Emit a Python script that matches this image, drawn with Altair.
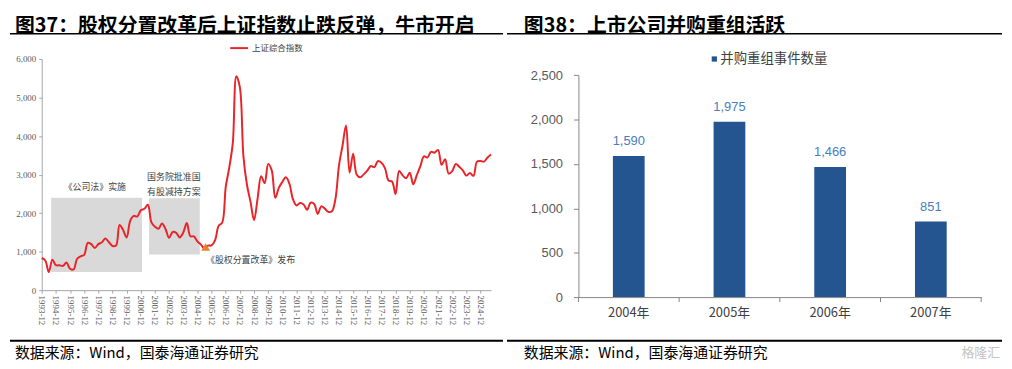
import altair as alt
import pandas as pd

# ---------------- Left chart: 上证综合指数 (quarterly) ----------------
sse_values = [
    834,                      # 1993-12
    770, 468, 792, 648,       # 1994
    647, 630, 716, 555,       # 1995
    537, 815, 880, 917,       # 1996
    1230, 1194, 1097, 1194,   # 1997
    1243, 1339, 1244, 1147,   # 1998
    1158, 1690, 1560, 1367,   # 1999
    1801, 1928, 1911, 2073,   # 2000
    2112, 2218, 1760, 1646,   # 2001
    1593, 1732, 1581, 1358,   # 2002
    1510, 1487, 1367, 1497,   # 2003
    1742, 1399, 1396, 1266,   # 2004
    1181, 1081, 1155, 1161,   # 2005
    1299, 1672, 1753, 2675,   # 2006
    3184, 3821, 5552, 5262,   # 2007
    3473, 2736, 2293, 1821,   # 2008
    2373, 2959, 2779, 3277,   # 2009
    3110, 2398, 2656, 2808,   # 2010
    2928, 2762, 2359, 2199,   # 2011
    2263, 2225, 2086, 2269,   # 2012
    2237, 1979, 2175, 2116,   # 2013
    2033, 2048, 2364, 3235,   # 2014
    3748, 4277, 3053, 3539,   # 2015
    3004, 2930, 3005, 3104,   # 2016
    3223, 3192, 3349, 3307,   # 2017
    3169, 2847, 2821, 2494,   # 2018
    3091, 2979, 2905, 3050,   # 2019
    2750, 2985, 3218, 3473,   # 2020
    3442, 3591, 3568, 3640,   # 2021
    3252, 3399, 3024, 3089,   # 2022
    3273, 3202, 3110, 2975,   # 2023
    3041, 2967, 3336, 3352,   # 2024
    3336, 3444, 3520,         # 2025
]
quarter_labels = ["1993-12"] + [f"{y}-{m:02d}" for y in range(1994, 2026) for m in (3, 6, 9, 12)][:127]
tick_years = list(range(1994, 2026))  # label "YYYY-12" of previous year

# shaded event boxes
box_start = ["1994-08", "2001-07"]
box_end = ["2001-01", "2005-02"]
box_low = [470, 925]
box_high = [2400, 2385]

# annotations
note_text = ["《公司法》实施", "国务院批准国", "有股减持方案", "《股权分置改革》发布"]
note_date = ["1997-09", "2003-04", "2003-04", "2008-09"]
note_value = [2680, 2930, 2560, 773]

marker_date = ["2005-07"]
marker_value = [1120]

# ---------------- Right chart: 并购重组事件数量 ----------------
ma_years = ["2004年", "2005年", "2006年", "2007年"]
ma_counts = [1590, 1975, 1466, 851]

title_left = "图37：股权分置改革后上证指数止跌反弹，牛市开启"
title_right = "图38：上市公司并购重组活跃"
source_text = "数据来源：Wind，国泰海通证券研究"
legend_left = "上证综合指数"
legend_right = "并购重组事件数量"


def ym_to_pos(s):
    y, m = s.split("-")
    return int(y) + int(m) / 12.0


RED = "#E8262A"
BLUE = "#255591"
GRAY_AX = "#A6A6A6"
CJK = "Noto Sans CJK SC"
TITLE_SIZE = 20

line_df = pd.DataFrame({"quarter": quarter_labels, "value": sse_values})
line_df["pos"] = line_df["quarter"].map(ym_to_pos)

box_df = pd.DataFrame({
    "x1": [ym_to_pos(s) for s in box_start],
    "x2": [ym_to_pos(s) for s in box_end],
    "y1": box_low,
    "y2": box_high,
})
note_df = pd.DataFrame({"pos": [ym_to_pos(s) for s in note_date], "value": note_value, "label": note_text})
marker_df = pd.DataFrame({"pos": [ym_to_pos(s) for s in marker_date], "value": marker_value})

one = pd.DataFrame({"t": [""]})


def header_footer(title, x_left, x_right, x_text):
    """Title, rules, source line and a transparent spacer; y relative to plot top (page y 57)."""
    spacer = alt.Chart(one).mark_rule(strokeOpacity=0, opacity=0).encode(
        x=alt.value(x_left), x2=alt.value(x_left + 1), y=alt.value(-49))
    t = alt.Chart(pd.DataFrame({"t": [title]})).mark_text(
        font=CJK, fontSize=TITLE_SIZE, fontWeight="bold", color="#000000",
        align="left", baseline="top").encode(x=alt.value(x_text), y=alt.value(-43), text="t:N")
    r_top = alt.Chart(one).mark_rule(color="#000000", strokeWidth=1.5).encode(
        x=alt.value(x_left), x2=alt.value(x_right), y=alt.value(-25.5))
    r_bot = alt.Chart(one).mark_rule(color="#000000", strokeWidth=2).encode(
        x=alt.value(x_left), x2=alt.value(x_right), y=alt.value(284))
    s = alt.Chart(pd.DataFrame({"t": [source_text]})).mark_text(
        font=CJK, fontSize=15, color="#000000", align="left", baseline="middle").encode(
        x=alt.value(x_text), y=alt.value(296), text="t:N")
    return [spacer, t, r_top, r_bot, s]


# ---------------- Left panel ----------------
W1, H1 = 453, 233
xs1 = alt.Scale(domain=[1994.0, 2025.75], nice=False, zero=False)
ys1 = alt.Scale(domain=[0, 6000], nice=False)
xa1 = alt.Axis(values=tick_years, labelExpr="(datum.value - 1) + '-12'", labelAngle=90,
               labelFont="Liberation Serif", labelFontSize=9, labelColor="#595959",
               tickSize=3, tickColor=GRAY_AX, domainColor=GRAY_AX, labelPadding=2,
               grid=False, title=None, labelOverlap=False, labelFlush=False)
ya1 = alt.Axis(values=[0, 1000, 2000, 3000, 4000, 5000, 6000], format=",.0f",
               labelFont="Liberation Serif", labelFontSize=9, labelColor="#595959",
               tickSize=3, tickColor=GRAY_AX, domainColor=GRAY_AX, labelPadding=3,
               grid=False, title=None)

boxes = alt.Chart(box_df).mark_rect(color="#D9D9D9").encode(
    x=alt.X("x1:Q", scale=xs1, axis=xa1), x2="x2",
    y=alt.Y("y1:Q", scale=ys1, axis=ya1), y2="y2")
line = alt.Chart(line_df).mark_line(color=RED, strokeWidth=2, interpolate="catmull-rom").encode(
    x=alt.X("pos:Q", scale=xs1, axis=xa1), y=alt.Y("value:Q", scale=ys1, axis=ya1))
marker = alt.Chart(marker_df).mark_point(shape="triangle-up", filled=True, size=80,
                                         color="#E8802E", opacity=1).encode(
    x=alt.X("pos:Q", scale=xs1, axis=xa1), y=alt.Y("value:Q", scale=ys1, axis=ya1))
notes = alt.Chart(note_df).mark_text(font=CJK, fontSize=9, color="#404040").encode(
    x=alt.X("pos:Q", scale=xs1, axis=xa1), y=alt.Y("value:Q", scale=ys1, axis=ya1), text="label:N")

leg1_line = alt.Chart(one).mark_rule(color=RED, strokeWidth=2).encode(
    x=alt.value(190), x2=alt.value(208), y=alt.value(-11))
leg1_text = alt.Chart(pd.DataFrame({"t": [legend_left]})).mark_text(
    font=CJK, fontSize=8.5, color="#404040", align="left", baseline="middle").encode(
    x=alt.value(212), y=alt.value(-11), text="t:N")

left = alt.layer(boxes, line, marker, notes, leg1_line, leg1_text,
                 *header_footer(title_left, -32, 465, -27)).properties(width=W1, height=H1)

# ---------------- Right panel (plot top shares page y 57 with left) ----------------
bar_df = pd.DataFrame({"year": ma_years, "count": ma_counts})
W2, H2 = 406, 240
Y_TOP = 16.3  # pixel position of 2,500 inside the panel
xs2 = alt.Scale(paddingInner=0, paddingOuter=0)
ys2 = alt.Scale(domain=[0, 2500], nice=False, range=[H2, Y_TOP])
xa2 = alt.Axis(labelAngle=0, ticks=False, tickSize=0, labelPadding=10, labelFont=CJK,
               labelFontSize=13, labelColor="#404040", domainColor="#868686", title=None)
ya2 = alt.Axis(values=[0, 500, 1000, 1500, 2000, 2500], format=",.0f", tickSize=5,
               tickColor="#868686", domainColor="#868686", labelPadding=11,
               labelFont="Liberation Sans", labelFontSize=13, labelColor="#595959",
               grid=False, title=None)

bars = alt.Chart(bar_df).mark_bar(color=BLUE, size=32).encode(
    x=alt.X("year:N", sort=None, scale=xs2, axis=xa2),
    y=alt.Y("count:Q", scale=ys2, axis=ya2))
bar_labels = alt.Chart(bar_df).mark_text(dy=-15, font="Liberation Sans", fontSize=13,
                                         color="#4A7EBB", baseline="middle").encode(
    x=alt.X("year:N", sort=None, scale=xs2, axis=xa2),
    y=alt.Y("count:Q", scale=ys2, axis=ya2),
    text=alt.Text("count:Q", format=",.0f"))
xticks = alt.Chart(bar_df).mark_rule(color="#868686").encode(
    x=alt.X("year:N", sort=None, scale=xs2, axis=xa2, bandPosition=0),
    y=alt.value(H2), y2=alt.value(H2 + 5))
xtick_end = alt.Chart(one).mark_rule(color="#868686").encode(
    x=alt.value(W2), y=alt.value(H2), y2=alt.value(H2 + 5))

leg2_sq = alt.Chart(one).mark_point(shape="square", filled=True, size=28, color=BLUE, opacity=1).encode(
    x=alt.value(137), y=alt.value(0))
leg2_text = alt.Chart(pd.DataFrame({"t": [legend_right]})).mark_text(
    font=CJK, fontSize=13.5, color="#404040", align="left", baseline="middle").encode(
    x=alt.value(143), y=alt.value(0), text="t:N")
wm = alt.Chart(pd.DataFrame({"t": ["格隆汇"]})).mark_text(
    font=CJK, fontSize=13, color="#C4C4C4", align="right", baseline="middle").encode(
    x=alt.value(425), y=alt.value(296), text="t:N")

right = alt.layer(bars, bar_labels, xticks, xtick_end, leg2_sq, leg2_text,
                  *header_footer(title_right, -72, 427, -55), wm).properties(width=W2, height=H2)

chart = alt.hconcat(left, right, spacing=0).properties(padding=0).configure_view(
    stroke="transparent")

chart.save("out.html", embed_options={"renderer": "svg", "actions": False})
